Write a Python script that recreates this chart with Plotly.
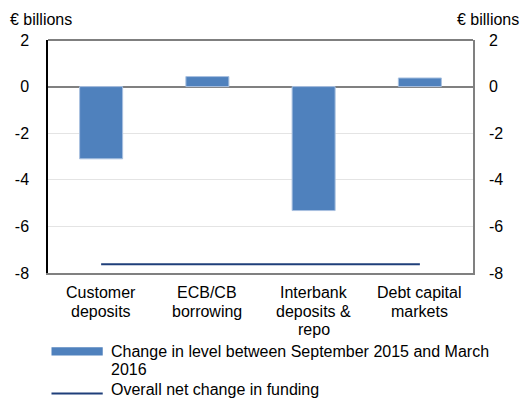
import plotly.graph_objects as go

categories = ["Customer deposits", "ECB/CB borrowing", "Interbank deposits & repo", "Debt capital markets"]
category_label_lines = [["Customer", "deposits"], ["ECB/CB", "borrowing"],
                        ["Interbank", "deposits &", "repo"], ["Debt capital", "markets"]]
change_values = [-3.1, 0.43, -5.32, 0.37]
net_change = [-7.62, -7.62, -7.62, -7.62]
y_ticks = [-8, -6, -4, -2, 0, 2]

W, H = 523, 398
L, R, T, B = 47.5, 473.0, 40.0, 273.3
FONT = "Liberation Sans, Arial, sans-serif"
FS = 16

def px(x):
    return (x - L) / (R - L)

def py(y):
    return (B - y) / (B - T)

fig = go.Figure()
fig.add_trace(go.Bar(
    x=categories, y=change_values, width=0.405,
    marker=dict(color="#4F81BD", line=dict(color="#A9C1E0", width=1)),
    showlegend=False,
))
fig.add_trace(go.Scatter(
    x=categories, y=net_change, mode="lines",
    line=dict(color="#1F3F7A", width=2), showlegend=False,
))
fig.add_trace(go.Scatter(x=[None], y=[None], yaxis="y2", showlegend=False))

fig.update_layout(
    width=W, height=H,
    margin=dict(l=L, r=W - R, t=T, b=H - B, pad=0),
    paper_bgcolor="white", plot_bgcolor="white",
    font=dict(family=FONT, size=FS, color="black"),
    xaxis=dict(showline=True, linecolor="#808080", linewidth=1.5, ticks="",
               showticklabels=False, showgrid=False),
    yaxis=dict(range=[-8, 2], tickvals=y_ticks, ticktext=[str(v) for v in y_ticks],
               showline=True, linecolor="black", linewidth=1.5, ticks="",
               showgrid=True, gridcolor="#e4e4e4", gridwidth=1,
               zeroline=True, zerolinecolor="#808080", zerolinewidth=2,
               ticklabelstandoff=14),
    yaxis2=dict(range=[-8, 2], tickvals=y_ticks, ticktext=[str(v) for v in y_ticks],
                overlaying="y", side="right", showline=True, linecolor="#808080",
                linewidth=1.5, ticks="", showgrid=False, zeroline=False,
                ticklabelstandoff=11),
)

shapes = [
    dict(type="line", xref="paper", yref="paper", x0=0, x1=1, y0=1, y1=1,
         line=dict(color="black", width=1.2)),
    # legend symbols
    dict(type="rect", xref="paper", yref="paper", x0=px(51), x1=px(102.3), y0=py(356), y1=py(347.7),
         fillcolor="#4F81BD", line=dict(width=0)),
    dict(type="line", xref="paper", yref="paper", x0=px(51), x1=px(102.3), y0=py(394), y1=py(394),
         line=dict(color="#1F3F7A", width=2)),
]
fig.update_layout(shapes=shapes)

def ann(text, x, y, xanchor="left"):
    fig.add_annotation(text=text, xref="paper", yref="paper", x=px(x), y=py(y),
                       xanchor=xanchor, yanchor="middle", showarrow=False,
                       font=dict(family=FONT, size=FS, color="black"))

line_y = [293, 311.5, 330]
for cat, lines in zip(categories, category_label_lines):
    for i, t in enumerate(lines):
        fig.add_annotation(text=t, xref="x", yref="paper", x=cat, y=py(line_y[i]),
                           xanchor="center", yanchor="middle", showarrow=False,
                           font=dict(family=FONT, size=FS, color="black"))

ann("€ billions", 7, 19)
ann("€ billions", 521, 19, xanchor="right")
ann("Change in level between September 2015 and March", 108.5, 351.7)
ann("2016", 108.5, 369.5)
ann("Overall net change in funding", 108.5, 390)

fig.write_html("out.html", config={"displayModeBar": False})
with open("out.html", encoding="utf-8") as f:
    html = f.read()
html = html.replace("<body>", '<body style="margin:0;padding:0;overflow:hidden">', 1)
with open("out.html", "w", encoding="utf-8") as f:
    f.write(html)
